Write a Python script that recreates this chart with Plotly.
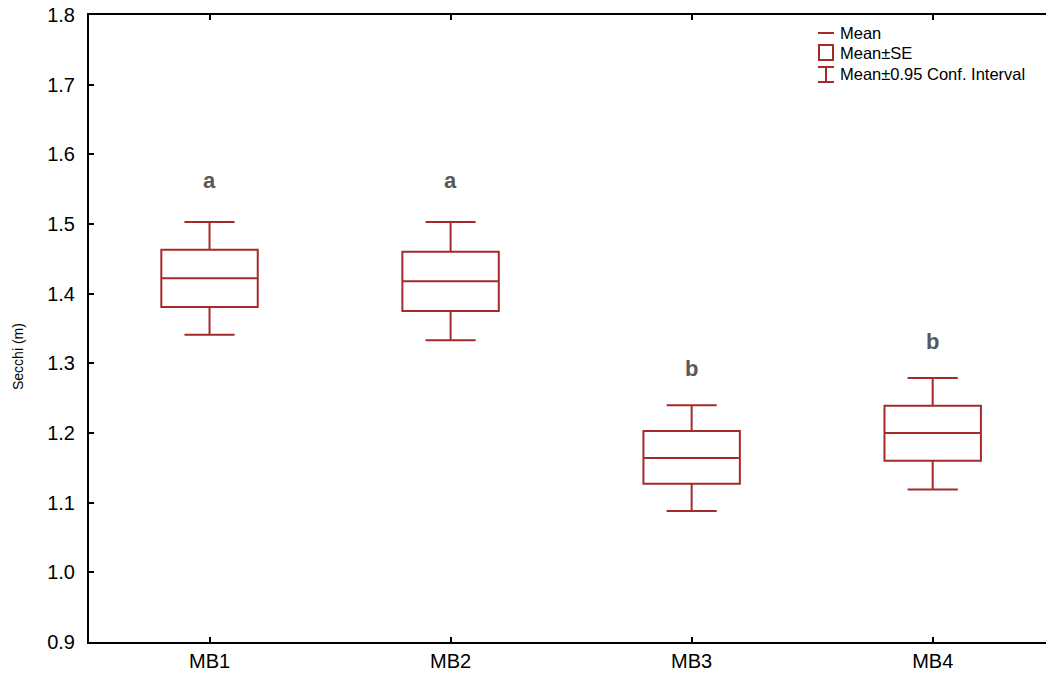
import plotly.graph_objects as go

categories = ["MB1", "MB2", "MB3", "MB4"]
mean = [1.422, 1.418, 1.164, 1.200]
se_low = [1.381, 1.375, 1.127, 1.160]
se_high = [1.463, 1.460, 1.203, 1.239]
ci_low = [1.341, 1.333, 1.088, 1.119]
ci_high = [1.503, 1.503, 1.240, 1.279]
letters = ["a", "a", "b", "b"]
letter_y = [1.562, 1.562, 1.292, 1.332]
yticks = [0.9, 1.0, 1.1, 1.2, 1.3, 1.4, 1.5, 1.6, 1.7, 1.8]

RED = "#a52a2a"
FONT = "Liberation Sans, Arial, sans-serif"
W, H = 1046, 677
ML, MT, MB, MR = 89, 15, 35, 0

fig = go.Figure()
fig.add_trace(go.Box(
    x=categories, q1=se_low, median=mean, q3=se_high,
    lowerfence=ci_low, upperfence=ci_high,
    width=0.4, whiskerwidth=0.52, boxpoints=False,
    line=dict(color=RED, width=2), fillcolor="rgba(0,0,0,0)",
    showlegend=False, hoverinfo="skip",
))

for c, t, y in zip(categories, letters, letter_y):
    fig.add_annotation(x=c, y=y, text=f"<b>{t}</b>", showarrow=False,
                       font=dict(family=FONT, size=22, color="#595959"))

# legend drawn in paper coords from screen pixel positions
pw, ph = W - ML - MR, H - MT - MB
def px(x):
    return (x - ML) / pw
def py(y):
    return (H - MB - y) / ph

shapes = []
shapes.append(dict(type="line", xref="paper", yref="paper",
                   x0=px(818), x1=px(834), y0=py(33), y1=py(33),
                   line=dict(color=RED, width=2)))
shapes.append(dict(type="rect", xref="paper", yref="paper",
                   x0=px(819), x1=px(833), y0=py(45), y1=py(60),
                   line=dict(color=RED, width=2)))
for seg in [((818, 67), (834, 67)), ((818, 82), (834, 82)), ((826, 67), (826, 82))]:
    shapes.append(dict(type="line", xref="paper", yref="paper",
                       x0=px(seg[0][0]), x1=px(seg[1][0]),
                       y0=py(seg[0][1]), y1=py(seg[1][1]),
                       line=dict(color=RED, width=2)))
for txt, yy in [("Mean", 33), ("Mean±SE", 53), ("Mean±0.95 Conf. Interval", 74)]:
    fig.add_annotation(xref="paper", yref="paper", x=px(838), y=py(yy),
                       xanchor="left", yanchor="middle", text=txt, showarrow=False,
                       font=dict(family=FONT, size=16.5, color="black"))

fig.add_annotation(xref="paper", yref="paper", x=0, y=py(357), xshift=-71,
                   xanchor="center", yanchor="middle",
                   text="Secchi (m)", textangle=-90, showarrow=False,
                   font=dict(family=FONT, size=14, color="black"))

fig.update_layout(
    width=W, height=H, margin=dict(l=ML, r=MR, t=MT, b=MB, autoexpand=False),
    plot_bgcolor="white", paper_bgcolor="white",
    shapes=shapes, showlegend=False,
    font=dict(family=FONT, size=20, color="black"),
)
fig.update_xaxes(type="category", range=[-0.5, 3.47], showline=True, linecolor="black",
                 linewidth=2, mirror="ticks", ticks="inside", ticklen=5, tickwidth=2,
                 tickcolor="black", showgrid=False, zeroline=False, automargin=False,
                 tickfont=dict(family=FONT, size=20, color="black"))
fig.update_yaxes(range=[0.9, 1.8], tickvals=yticks, tickformat=".1f", showline=True,
                 linecolor="black", linewidth=2, ticks="inside", ticklen=5, tickwidth=2,
                 tickcolor="black", showgrid=False, zeroline=False, ticklabelstandoff=8,
                 ticklabeloverflow="allow", automargin=False,
                 tickfont=dict(family=FONT, size=20, color="black"))

fig.write_html("out.html", config={"displayModeBar": False},
               post_script="document.body.style.margin='0';document.body.style.overflow='hidden';")
